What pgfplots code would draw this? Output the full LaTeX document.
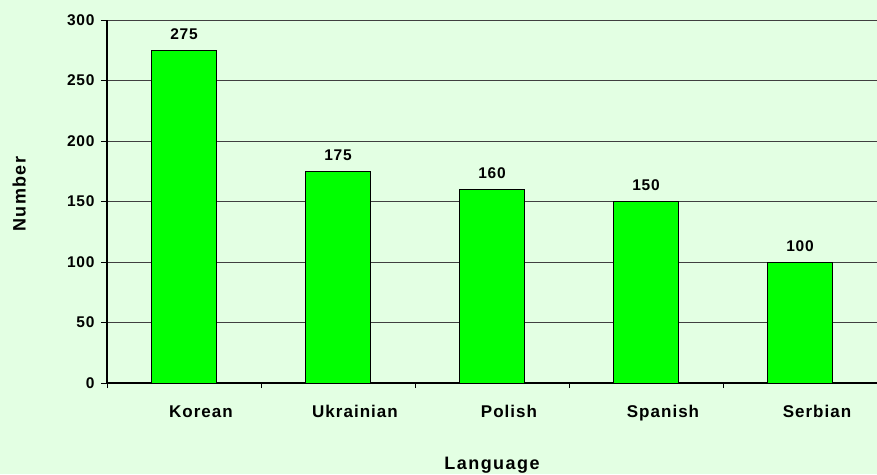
\documentclass[border=0pt]{standalone}
\usepackage{pgfplots}
\pgfplotsset{compat=1.18}
\usepackage{fontspec}
\setmainfont{Liberation Sans}
\newfontfamily\numfont[LetterSpace=5]{Liberation Sans}
\newfontfamily\catfont[LetterSpace=6]{Liberation Sans}
\newfontfamily\labfont[LetterSpace=8]{Liberation Sans}
\definecolor{bg}{RGB}{227,255,227}
\definecolor{bargreen}{RGB}{0,255,0}
\begin{document}
\begin{tikzpicture}[x=1pt,y=1pt]
\fill[bg] (-107,-91) rectangle (770,383);
\useasboundingbox (-107,-91) rectangle (770,383);
\begin{axis}[
  at={(0,0)}, anchor=south west,
  scale only axis, width=770pt, height=363pt,
  xmin=-0.5, xmax=4.5, ymin=0, ymax=300,
  axis x line*=bottom, axis y line*=left,
  axis line style={black, line width=1.3pt},
  ytick={0,50,...,300},
  ymajorgrids, grid style={black!75, line width=0.7pt},
  xtick={0,1,2,3,4},
  xticklabels={Korean,Ukrainian,Polish,Spanish,Serbian},
  major x tick style={draw=none},
  minor xtick={-0.5,0.5,1.5,2.5,3.5,4.5},
  minor x tick style={black, line width=0.9pt},
  minor tick length=5pt,
  major tick length=6pt,
  y tick style={black, line width=0.9pt},
  tick align=outside,
  yticklabel style={font=\numfont\bfseries\fontsize{15.5}{18}\selectfont, xshift=-3pt},
  xticklabel style={font=\catfont\bfseries\fontsize{17}{20}\selectfont, yshift=-13pt, xshift=17pt},
  /pgf/number format/assume math mode=true,
  xlabel={Language}, ylabel={Number},
  label style={font=\labfont\bfseries\fontsize{18}{21}\selectfont},
  xlabel style={at={(axis description cs:0.5,0)}, anchor=center, yshift=-82pt},
  ylabel style={at={(axis description cs:-0.114,0.52)}, anchor=center},
  clip=false,
]
\addplot[ybar, bar width=0.42, fill=bargreen, draw=black, line width=1pt,
  nodes near coords, nodes near coords style={font=\numfont\bfseries\fontsize{15.5}{18}\selectfont, yshift=7pt}]
  coordinates {(0,275) (1,175) (2,160) (3,150) (4,100)};
\end{axis}
\end{tikzpicture}
\end{document}
